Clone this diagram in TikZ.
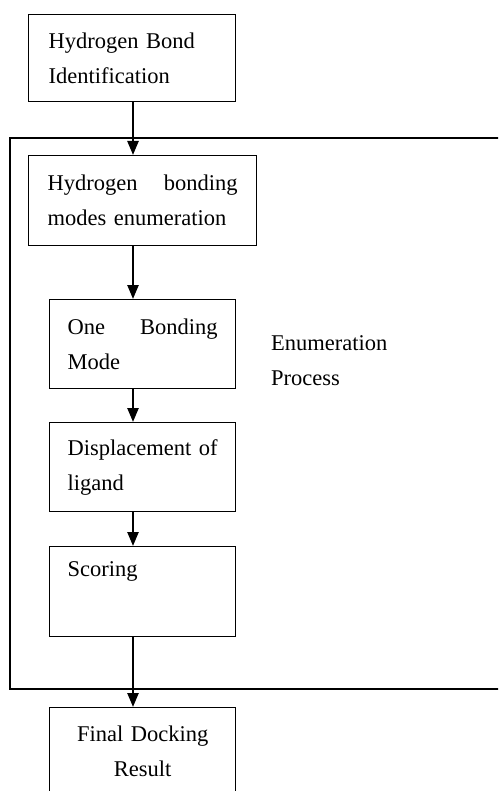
\documentclass[tikz,border=0pt]{standalone}
\usepackage{fontspec}
\setmainfont{Liberation Serif}
\usetikzlibrary{arrows.meta}

\begin{document}
\begin{tikzpicture}[x=1pt,y=-1pt,
        font=\fontsize{22.5}{35}\selectfont,
        procbox/.style={draw,line width=1.4pt,anchor=north west,inner xsep=18pt,inner ysep=0pt,
                        text width=150pt,minimum height=89pt,align=left},
        flow/.style={line width=2.4pt,-{Triangle[width=11pt,length=14pt]}}]
            \useasboundingbox (0,0) rectangle (498,791);
            \clip (0,0) rectangle (498,791);

            % X % 10    28    49    133   235   256   271
            % Y % 14    138   155   299   422   546   689   707

            \coordinate (spine) at (133,0);

            \draw [line width=2pt] (10,138) rectangle (530,689);

            \node [procbox,text width=167pt,inner xsep=20pt,minimum height=87pt] (ident) at (28,14)
                {Hydrogen Bond\\Identification};
            \node [procbox,text width=190pt,inner xsep=19pt,minimum height=90pt] (modes) at (28,155)
                {Hydrogen\hfill bonding\\modes enumeration};
            \node [procbox] (one) at (49,299) {One\hfill Bonding\\Mode};
            \node [procbox] (displ) at (49,422) {Displacement of\\ligand};
            \node [procbox,minimum height=90pt] (score) at (49,546) {Scoring\\\strut};
            \node [procbox,align=center,minimum height=88pt] (final) at (49,707) {Final Docking\\Result};

            \node [anchor=west,inner sep=0pt,align=left] (enum) at (271,361) {Enumeration\\Process};

            \draw [flow] (ident.south -| spine) -- (modes.north -| spine);
            \draw [flow] (modes.south -| spine) -- (one.north -| spine);
            \draw [flow] (one.south -| spine) -- (displ.north -| spine);
            \draw [flow] (displ.south -| spine) -- (score.north -| spine);
            \draw [flow] (score.south -| spine) -- (final.north -| spine);
        \end{tikzpicture}
\end{document}
